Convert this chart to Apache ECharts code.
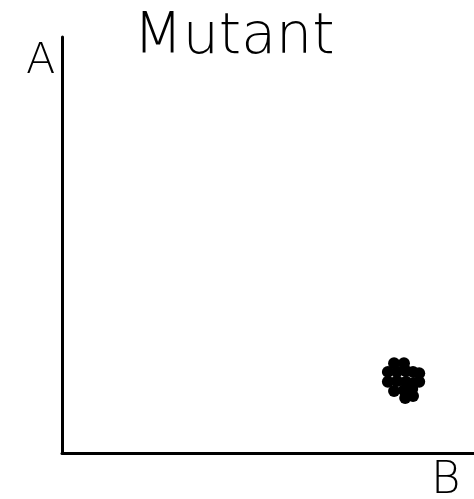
<!DOCTYPE html>
<html>
<head>
<meta charset="utf-8">
<script src="https://cdn.jsdelivr.net/npm/echarts@6/dist/echarts.min.js"></script>
<style>
  html, body { margin: 0; padding: 0; background: #fff; }
  #chart { width: 474px; height: 499px; }
</style>
</head>
<body>
<div id="chart"></div>
<script>
// Cluster of mutant measurements (B on x, A on y), 0–100 scale
const bValues = [80.6, 83.0, 79.1, 81.3, 83.5, 85.2, 86.7, 79.1, 81.3, 83.5, 85.4, 86.7, 80.6, 83.0, 85.0, 83.3, 85.2];
const aValues = [21.6, 21.6, 19.5, 19.5, 19.7, 19.5, 19.2, 17.1, 17.3, 17.1, 16.8, 17.1, 14.9, 15.1, 15.4, 13.2, 13.7];
const titleText = 'Mutant';
const xName = 'B';
const yName = 'A';

const points = bValues.map((b, i) => [b, aValues[i]]);
const font = '"DejaVu Sans", sans-serif';

const chart = echarts.init(document.getElementById('chart'));
chart.setOption({
  animation: false,
  backgroundColor: '#ffffff',
  title: {
    text: titleText,
    left: 229,
    top: 5,
    textAlign: 'center',
    textStyle: { fontFamily: font, fontSize: 57, fontWeight: 200, color: '#000' }
  },
  grid: { left: 62, right: 0, top: 37, bottom: 46 },
  xAxis: {
    type: 'value', min: 0, max: 100,
    axisLine: { show: true, lineStyle: { color: '#000', width: 3 } },
    axisTick: { show: false }, axisLabel: { show: false }, splitLine: { show: false }
  },
  yAxis: {
    type: 'value', min: 0, max: 100,
    axisLine: { show: true, lineStyle: { color: '#000', width: 3 } },
    axisTick: { show: false }, axisLabel: { show: false }, splitLine: { show: false }
  },
  graphic: [
    { type: 'text', left: 26, top: 40, style: { text: yName, font: '200 43px ' + font, fill: '#000' } },
    { type: 'text', left: 431, top: 459, style: { text: xName, font: '200 45px ' + font, fill: '#000' } }
  ],
  series: [{
    type: 'scatter',
    data: points,
    symbolSize: 12,
    itemStyle: { color: '#000', opacity: 1 }
  }]
});
</script>
</body>
</html>
